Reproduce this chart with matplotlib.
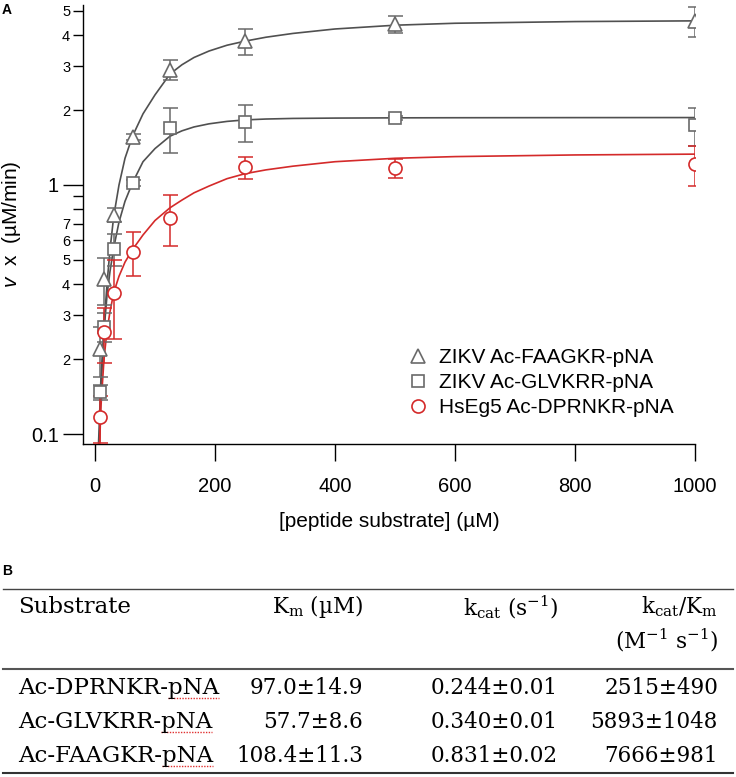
import matplotlib
matplotlib.use("Agg")
import matplotlib.pyplot as plt
from matplotlib.lines import Line2D
from matplotlib.ticker import FixedLocator, FixedFormatter

plt.rcParams['font.family'] = ['Liberation Sans', 'DejaVu Sans']
plt.rcParams['mathtext.fontset'] = 'custom'
plt.rcParams['mathtext.rm'] = 'DejaVu Serif'
plt.rcParams['mathtext.it'] = 'Liberation Sans:italic'

# substrate concentrations (uM) and measured rates (uM/min)
conc = [7.8, 15.6, 31.25, 62.5, 125, 250, 500, 1000]
tri_v = [0.22, 0.42, 0.76, 1.56, 2.9, 3.78, 4.42, 4.55]
tri_err = [0.05, 0.09, 0.05, 0.04, 0.27, 0.45, 0.35, 0.62]
sq_v = [0.147, 0.27, 0.553, 1.02, 1.69, 1.79, 1.86, 1.74]
sq_err = [0.01, 0.035, 0.08, 0.03, 0.34, 0.3, 0.03, 0.3]
circ_v = [0.117, 0.257, 0.37, 0.54, 0.74, 1.18, 1.17, 1.21]
circ_err = [0.025, 0.065, 0.13, 0.11, 0.17, 0.12, 0.1, 0.22]

# fitted curves
fit_x = [2, 5, 10, 15, 20, 25, 31.25, 40, 50, 62.5, 80, 100, 125, 145, 165, 190, 220, 250, 285, 330, 400, 500, 600, 800, 1000]
tri_fit = [0.02, 0.06, 0.15, 0.27, 0.40, 0.55, 0.75, 1.0, 1.28, 1.57, 1.93, 2.3, 2.79, 3.04, 3.25, 3.45, 3.64, 3.78, 3.92, 4.06, 4.23, 4.38, 4.46, 4.53, 4.56]
sq_fit = [0.03, 0.08, 0.17, 0.26, 0.36, 0.45, 0.56, 0.71, 0.86, 1.02, 1.24, 1.4, 1.57, 1.65, 1.71, 1.76, 1.8, 1.825, 1.84, 1.85, 1.856, 1.86, 1.862, 1.864, 1.865]
red_fit = [0.02, 0.06, 0.13, 0.2, 0.26, 0.31, 0.37, 0.43, 0.49, 0.55, 0.63, 0.72, 0.81, 0.87, 0.93, 0.99, 1.06, 1.11, 1.15, 1.19, 1.24, 1.28, 1.3, 1.32, 1.33]

labels = ['ZIKV Ac-FAAGKR-pNA', 'ZIKV Ac-GLVKRR-pNA', 'HsEg5 Ac-DPRNKR-pNA']

x_ticks = [0, 200, 400, 600, 800, 1000]
y_major = [0.1, 1]
y_major_labels = ['0.1', '1']
y_minor = [0.2, 0.3, 0.4, 0.5, 0.6, 0.7, 0.8, 0.9, 2, 3, 4, 5]
y_minor_labels = ['2', '3', '4', '5', '6', '7', '', '', '2', '3', '4', '5']

# table B
col_headers = ['Substrate', 'K$_\\mathrm{m}$ (µM)', 'k$_\\mathrm{cat}$ (s$^{-1}$)', 'k$_\\mathrm{cat}$/K$_\\mathrm{m}$']
substrates = ['Ac-DPRNKR-pNA', 'Ac-GLVKRR-pNA', 'Ac-FAAGKR-pNA']
km = ['97.0±14.9', '57.7±8.6', '108.4±11.3']
kcat = ['0.244±0.01', '0.340±0.01', '0.831±0.02']
kcat_km = ['2515±490', '5893±1048', '7666±981']

GRAY = '#6a6a6a'
LINE_GRAY = '#505050'
RED = '#d42a2a'

W, H = 736, 777
fig = plt.figure(figsize=(W / 100, H / 100), dpi=100)


def fx(px):
    return px / W


def fy(py):
    return 1 - py / H


ax = fig.add_axes([fx(83), fy(444), fx(695) - fx(83), fy(5) - fy(444)])

ax.plot(fit_x, tri_fit, color=LINE_GRAY, lw=1.2, zorder=2)
ax.plot(fit_x, sq_fit, color=LINE_GRAY, lw=1.2, zorder=2)
ax.plot(fit_x, red_fit, color=RED, lw=1.2, zorder=2)

series = [(tri_v, tri_err, '^', 10, GRAY), (sq_v, sq_err, 's', 8.6, GRAY), (circ_v, circ_err, 'o', 9.4, RED)]
for (vals, errs, mk, ms, col), lab in zip(series, labels):
    ax.errorbar(conc, vals, yerr=errs, fmt='none', ecolor=col, elinewidth=1.1, capsize=5.4, capthick=1.1, zorder=3)
    ax.plot(conc, vals, ls='none', marker=mk, ms=ms, mfc='white', mec=col, mew=1.2, zorder=4, label=lab)

ax.set_yscale('log')
ax.set_xlim(-20, 1000)
ax.set_ylim(0.0912, 5.28)

ax.spines['top'].set_visible(False)
ax.spines['right'].set_visible(False)
for s in ['left', 'bottom']:
    ax.spines[s].set_linewidth(1.0)

ax.set_xticks(x_ticks)
ax.set_xticklabels([str(t) for t in x_ticks])
ax.tick_params(axis='x', length=12, width=1.0, pad=12, labelsize=14.5)

ax.yaxis.set_major_locator(FixedLocator(y_major))
ax.yaxis.set_major_formatter(FixedFormatter(y_major_labels))
ax.yaxis.set_minor_locator(FixedLocator(y_minor))
ax.yaxis.set_minor_formatter(FixedFormatter(y_minor_labels))
ax.tick_params(axis='y', which='major', length=14.4, width=1.0, pad=3, labelsize=14.5)
ax.tick_params(axis='y', which='minor', length=7.2, width=1.0, pad=2, labelsize=10.5)

ax.set_xlabel('[peptide substrate] (µM)', fontsize=15, labelpad=11)
ax.set_ylabel('$v$  x  (µM/min)', fontsize=15, labelpad=6)

ax.legend(loc='upper left', bbox_to_anchor=(0.531, 0.219), frameon=False, fontsize=15,
          handlelength=1.0, handletextpad=0.5, labelspacing=0.29, borderpad=0, borderaxespad=0)

fig.text(fx(2), fy(3), 'A', fontsize=10, fontweight='bold', va='top', ha='left')
fig.text(fx(2), fy(564), 'B', fontsize=10, fontweight='bold', va='top', ha='left')

# table
serif = ['DejaVu Serif']
name_size = 16.5
num_size = 15.5
left_x = 18
right_x = [363, 558, 718]
header_y = 607
row_y = [688, 722, 756]

fig.add_artist(Line2D([fx(3), fx(733)], [fy(589), fy(589)], color='#444444', lw=1.0))
fig.add_artist(Line2D([fx(3), fx(733)], [fy(669), fy(669)], color='#555555', lw=1.5))
fig.add_artist(Line2D([fx(3), fx(733)], [fy(773), fy(773)], color='#333333', lw=1.5))

fig.text(fx(left_x), fy(header_y), col_headers[0], family=serif, fontsize=name_size, va='center', ha='left')
for hx, h in zip(right_x, col_headers[1:]):
    fig.text(fx(hx), fy(header_y), h, family=serif, fontsize=num_size, va='center', ha='right')
fig.text(fx(right_x[2]), fy(640), '(M$^{-1}$ s$^{-1}$)', family=serif, fontsize=num_size, va='center', ha='right')

fig.canvas.draw()
renderer = fig.canvas.get_renderer()
for ry, name, a, b, c in zip(row_y, substrates, km, kcat, kcat_km):
    t = fig.text(fx(left_x), fy(ry), name, family=serif, fontsize=name_size, va='center', ha='left')
    for hx, val in zip(right_x, [a, b, c]):
        fig.text(fx(hx), fy(ry), val, family=serif, fontsize=num_size, va='center', ha='right')
    # spell-check squiggle under "pNA"
    pre = fig.text(fx(left_x), fy(ry), name[:-3], family=serif, fontsize=name_size, va='center', ha='left')
    bb_full = t.get_window_extent(renderer)
    bb_pre = pre.get_window_extent(renderer)
    pre.remove()
    y_line = (bb_full.y0 + 1) / H
    fig.add_artist(Line2D([bb_pre.x1 / W, bb_full.x1 / W], [y_line, y_line], color='#e03030', lw=1.0, ls=(0, (1, 1))))

fig.savefig('out.png', dpi=100)
